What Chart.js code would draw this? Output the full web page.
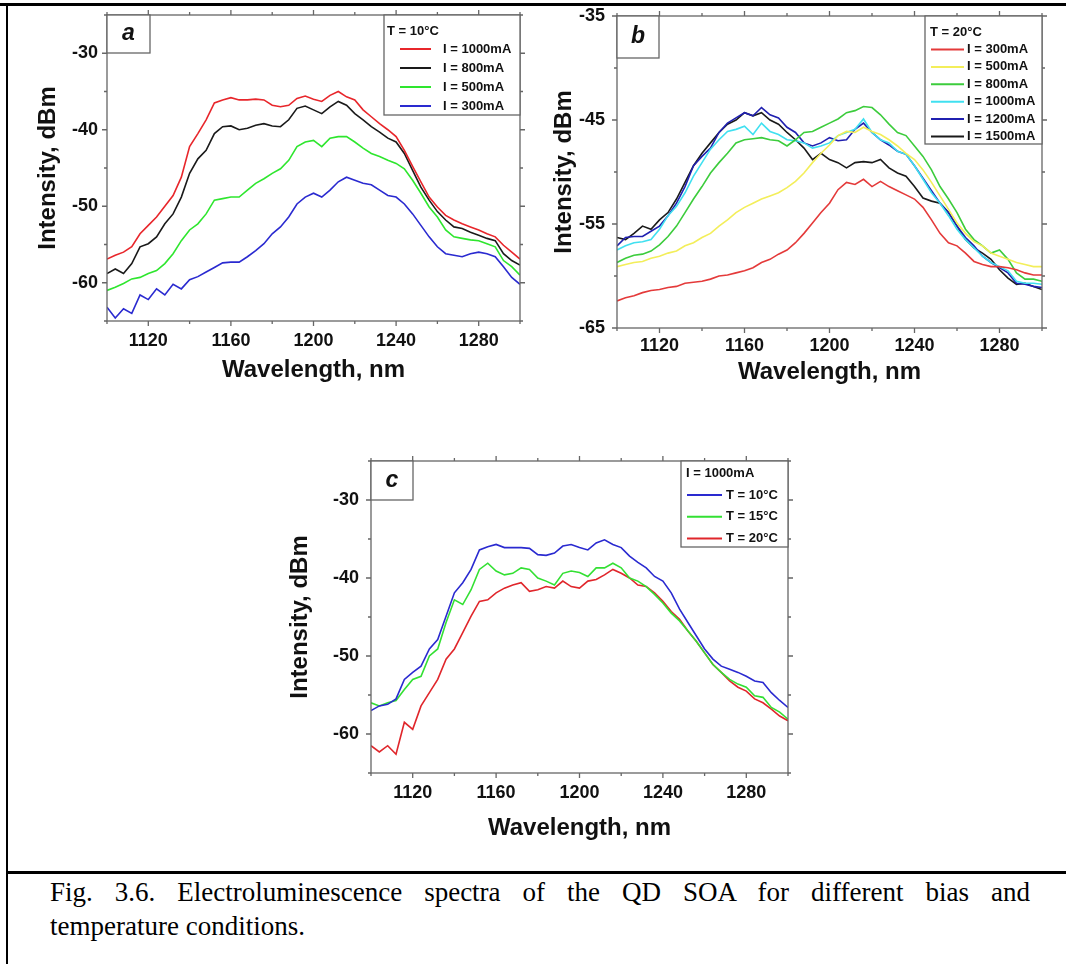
<!DOCTYPE html>
<html lang="en">
<head>
<meta charset="UTF-8">
<title>Electroluminescence spectra of the QD SOA</title>
<script src="https://cdn.jsdelivr.net/npm/chart.js"></script>
<style>
  body { margin: 0; background: #fff; }
  #page { position: relative; width: 1066px; height: 964px; overflow: hidden; background: #fff; }
  canvas { position: absolute; }
  .rule { position: absolute; background: #000; }
  .caption {
    position: absolute; left: 50px; width: 980px; white-space: nowrap;
    font-family: 'Liberation Serif', 'Times New Roman', serif;
    font-size: 27px; line-height: 34px; color: #000;
  }
  .caption.first { top: 875px; white-space: normal; text-align: justify; text-align-last: justify; }
  .caption.second { top: 909px; }
</style>
</head>
<body>
<div id="page">
  <div class="rule" style="left:0;top:3px;width:1066px;height:3px"></div>
  <div class="rule" style="left:6px;top:3px;width:2px;height:961px"></div>
  <div class="rule" style="left:6px;top:871px;width:1060px;height:3px"></div>

  <canvas id="chartA" width="535" height="400" style="left:0;top:0"></canvas>
  <canvas id="chartB" width="531" height="400" style="left:535px;top:0"></canvas>
  <canvas id="chartC" width="560" height="400" style="left:250px;top:450px"></canvas>

  <div class="caption first">Fig. 3.6. Electroluminescence spectra of the QD SOA for different bias and</div>
  <div class="caption second">temperature conditions.</div>
</div>

<script>
// wavelength grid, nm
const wavelength = [1100, 1104, 1108, 1112, 1116, 1120, 1124, 1128, 1132, 1136,
                    1140, 1144, 1148, 1152, 1156, 1160, 1164, 1168, 1172, 1176,
                    1180, 1184, 1188, 1192, 1196, 1200, 1204, 1208, 1212, 1216,
                    1220, 1224, 1228, 1232, 1236, 1240, 1244, 1248, 1252, 1256,
                    1260, 1264, 1268, 1272, 1276, 1280, 1284, 1288, 1292, 1296, 1300];

const xTickLabels = [1120, 1160, 1200, 1240, 1280];
const yTickLabelsAC = [-30, -40, -50, -60];
const yTickLabelsB = [-35, -45, -55, -65];

// panel a, T = 10 C
const a1000mA = [-56.9,-56.4,-56.0,-55.3,-53.6,-52.5,-51.4,-50.0,-48.6,-46.2,
                 -42.2,-40.5,-38.7,-36.5,-36.1,-35.8,-36.1,-36.1,-36.0,-36.1,
                 -36.8,-37.0,-36.8,-35.9,-35.6,-36.0,-36.3,-35.5,-35.0,-35.7,
                 -36.1,-37.4,-38.3,-39.2,-40.0,-40.9,-42.7,-44.8,-46.8,-48.8,
                 -50.1,-51.2,-51.8,-52.3,-52.7,-53.1,-53.6,-54.0,-55.1,-56.0,-56.9];
const a800mA = [-58.8,-58.2,-58.8,-57.5,-55.3,-54.9,-54.0,-52.3,-51.0,-48.8,
                -45.7,-43.8,-42.7,-40.5,-39.6,-39.5,-40.0,-39.8,-39.4,-39.2,
                -39.5,-39.6,-38.7,-37.2,-36.9,-37.4,-37.9,-37.0,-36.3,-36.8,
                -37.9,-38.7,-39.6,-40.3,-41.1,-41.6,-43.1,-45.3,-47.5,-49.2,
                -50.7,-51.8,-52.7,-52.9,-53.4,-53.8,-54.2,-54.5,-56.2,-57.1,-57.7];
const a500mA = [-61.0,-60.6,-60.1,-59.5,-59.3,-58.8,-58.4,-57.5,-56.2,-54.5,
                -53.1,-52.3,-51.0,-49.2,-49.0,-48.8,-48.8,-47.9,-47.0,-46.4,
                -45.7,-45.1,-44.0,-42.2,-41.6,-41.4,-42.2,-41.1,-40.9,-40.9,
                -41.6,-42.4,-43.1,-43.5,-44.0,-44.4,-45.1,-46.6,-48.3,-50.1,
                -51.4,-53.1,-54.0,-54.2,-54.4,-54.5,-54.9,-55.3,-57.1,-57.9,-59.0];
const a300mA = [-63.2,-64.6,-63.4,-64.0,-61.6,-62.2,-60.8,-61.6,-60.2,-60.8,
                -59.6,-59.2,-58.6,-58.0,-57.4,-57.3,-57.3,-56.6,-55.8,-54.9,
                -53.6,-52.7,-51.4,-49.7,-48.8,-48.3,-48.8,-47.9,-46.8,-46.2,
                -46.6,-47.0,-47.2,-47.9,-48.6,-48.8,-49.7,-51.0,-52.5,-54.0,
                -55.3,-56.2,-56.4,-56.6,-56.2,-56.0,-56.2,-56.6,-57.9,-59.3,-60.2];

// panel b, T = 20 C
const b300mA = [-62.4,-62.1,-61.9,-61.6,-61.4,-61.3,-61.1,-61.0,-60.7,-60.6,
                -60.5,-60.3,-60.0,-59.9,-59.7,-59.5,-59.2,-58.7,-58.4,-57.9,
                -57.5,-56.8,-55.9,-54.9,-53.9,-53.0,-51.7,-51.0,-51.2,-50.7,
                -51.4,-50.9,-51.4,-51.8,-52.2,-52.6,-53.4,-54.6,-55.9,-56.8,
                -57.1,-57.8,-58.6,-58.9,-59.1,-59.1,-59.2,-59.4,-59.7,-59.9,-59.9];
const b500mA = [-59.1,-58.9,-58.7,-58.6,-58.3,-58.1,-57.8,-57.6,-57.1,-56.8,
                -56.3,-55.9,-55.2,-54.6,-53.9,-53.4,-53.0,-52.6,-52.3,-52.0,
                -51.5,-50.9,-50.1,-49.1,-48.2,-47.4,-46.5,-46.1,-46.2,-45.7,
                -46.1,-46.4,-46.9,-47.5,-48.2,-48.8,-49.8,-51.0,-52.3,-53.6,
                -54.9,-55.9,-56.7,-57.1,-57.8,-58.1,-58.4,-58.7,-58.9,-59.1,-59.1];
const b800mA = [-58.7,-58.3,-58.0,-57.9,-57.6,-57.0,-56.2,-55.2,-53.9,-52.6,
                -51.4,-50.1,-49.1,-48.2,-47.2,-46.9,-46.8,-46.7,-46.9,-47.0,
                -47.5,-46.9,-46.2,-46.1,-45.7,-45.3,-44.9,-44.3,-44.1,-43.7,
                -43.8,-44.5,-45.4,-46.2,-46.5,-47.5,-48.5,-49.8,-51.4,-52.6,
                -53.9,-55.5,-56.5,-57.1,-57.8,-57.5,-58.4,-59.7,-60.3,-60.3,-60.5];
const b1000mA = [-57.5,-57.1,-56.8,-56.7,-56.5,-55.5,-54.2,-53.3,-52.0,-50.4,
                 -49.1,-47.8,-46.9,-46.1,-45.9,-45.6,-46.4,-45.3,-46.1,-46.4,
                 -46.9,-47.0,-47.2,-47.7,-47.5,-47.2,-46.5,-46.2,-45.9,-44.9,
                 -46.2,-46.9,-47.2,-48.0,-48.3,-49.4,-50.7,-52.0,-53.0,-54.2,
                 -55.5,-56.5,-57.3,-58.1,-58.7,-59.1,-59.5,-60.5,-60.7,-60.7,-60.8];
const b1200mA = [-57.1,-56.3,-56.2,-56.2,-55.7,-55.2,-54.2,-53.0,-51.4,-49.4,
                 -48.5,-47.7,-46.2,-45.3,-44.8,-44.3,-44.6,-43.8,-44.5,-44.8,
                 -45.7,-46.2,-47.2,-47.5,-47.2,-46.7,-47.0,-46.9,-45.9,-45.3,
                 -46.2,-46.9,-47.4,-48.0,-48.3,-49.4,-50.6,-51.8,-53.0,-53.9,
                 -55.2,-56.3,-57.1,-58.1,-58.7,-59.2,-59.7,-60.7,-60.8,-61.0,-61.1];
const b1500mA = [-56.3,-56.5,-55.9,-55.2,-55.5,-54.6,-53.9,-52.6,-51.0,-49.4,
                 -48.2,-47.2,-46.2,-45.4,-45.0,-44.3,-44.6,-44.3,-45.0,-45.4,
                 -46.2,-46.9,-47.7,-48.8,-48.2,-48.8,-49.1,-49.6,-49.1,-49.0,
                 -49.1,-48.8,-49.6,-50.1,-50.4,-51.4,-52.5,-52.8,-53.0,-53.9,
                 -55.2,-56.5,-57.3,-57.8,-58.4,-59.4,-60.2,-60.8,-60.7,-61.0,-61.3];

// panel c, I = 1000 mA
const c10C = [-57.0,-56.4,-56.2,-55.5,-53.0,-52.1,-51.3,-49.1,-47.9,-44.9,
              -41.9,-40.6,-38.9,-36.4,-36.0,-35.7,-36.1,-36.1,-36.1,-36.2,
              -37.0,-37.1,-36.8,-35.9,-35.7,-36.1,-36.4,-35.5,-35.1,-35.7,
              -36.1,-37.2,-38.0,-38.7,-39.8,-40.4,-41.9,-44.0,-45.7,-47.4,
              -49.1,-50.4,-51.3,-51.7,-52.1,-52.6,-53.2,-53.4,-54.7,-55.7,-56.6];
const c15C = [-56.0,-56.4,-56.0,-55.7,-54.3,-53.0,-52.6,-50.0,-49.1,-45.7,
              -42.8,-43.4,-41.5,-38.9,-38.1,-39.1,-39.6,-39.4,-38.7,-38.9,
              -40.0,-40.4,-40.9,-39.4,-39.1,-39.3,-39.8,-38.7,-38.7,-38.1,
              -38.7,-40.0,-40.4,-41.1,-42.1,-43.2,-44.5,-45.5,-46.8,-48.1,
              -49.6,-51.1,-52.1,-53.0,-53.6,-54.0,-55.1,-55.3,-56.6,-57.2,-58.1];
const c20C = [-61.5,-62.3,-61.5,-62.6,-58.5,-59.4,-56.4,-54.7,-53.0,-50.4,
              -49.1,-47.0,-44.9,-43.0,-42.8,-41.9,-41.3,-40.9,-40.6,-41.7,
              -41.5,-41.1,-41.3,-40.4,-41.1,-41.3,-40.4,-40.2,-39.6,-38.9,
              -39.4,-40.0,-40.9,-41.1,-41.9,-43.0,-44.3,-45.3,-46.8,-48.1,
              -49.6,-51.1,-52.1,-53.2,-54.0,-54.5,-55.5,-56.0,-56.8,-57.7,-58.3];

const FONT = "'Liberation Sans', Arial, sans-serif";
Chart.defaults.font.family = FONT;

// frame with mirrored ticks, panel letter and inset legend
const panelDecor = {
  id: 'panelDecor',
  afterDatasetsDraw(chart, args, o) {
    const { ctx, chartArea: a, scales: { x, y } } = chart;
    ctx.save();
    ctx.strokeStyle = '#666';
    ctx.lineWidth = 1.3;
    ctx.strokeRect(a.left, a.top, a.right - a.left, a.bottom - a.top);
    ctx.beginPath();
    x.ticks.forEach(t => {
      const p = x.getPixelForValue(t.value);
      const len = t.label ? 5 : 3;
      ctx.moveTo(p, a.bottom); ctx.lineTo(p, a.bottom + len);
      ctx.moveTo(p, a.top); ctx.lineTo(p, a.top - len);
    });
    y.ticks.forEach(t => {
      const p = y.getPixelForValue(t.value);
      const len = t.label ? 5 : 3;
      ctx.moveTo(a.left, p); ctx.lineTo(a.left - len, p);
      ctx.moveTo(a.right, p); ctx.lineTo(a.right + len, p);
    });
    ctx.stroke();

    // letter box
    const [bx0, by0, bx1, by1] = o.letterBox;
    ctx.fillStyle = '#fff';
    ctx.fillRect(bx0, by0, bx1 - bx0, by1 - by0);
    ctx.strokeRect(bx0, by0, bx1 - bx0, by1 - by0);
    ctx.fillStyle = '#111';
    ctx.font = 'italic bold 23px ' + FONT;
    ctx.textAlign = 'center';
    ctx.textBaseline = 'middle';
    ctx.fillText(o.letter, (bx0 + bx1) / 2, (by0 + by1) / 2);

    // legend
    const L = o.legend;
    ctx.fillStyle = '#fff';
    ctx.fillRect(L.left, a.top, a.right - L.left, L.bottom - a.top);
    ctx.strokeRect(L.left, a.top, a.right - L.left, L.bottom - a.top);
    ctx.fillStyle = '#111';
    ctx.font = 'bold 13px ' + FONT;
    ctx.textAlign = 'left';
    ctx.fillText(L.title, L.titleX, L.titleY);
    chart.data.datasets.forEach((ds, i) => {
      const yy = L.firstY + i * L.rowH;
      ctx.strokeStyle = ds.borderColor;
      ctx.lineWidth = 2;
      ctx.beginPath();
      ctx.moveTo(L.lineX0, yy); ctx.lineTo(L.lineX1, yy);
      ctx.stroke();
      ctx.fillText(ds.label, L.textX, yy);
    });
    ctx.restore();
  }
};

function makePanel(id, cfg) {
  return new Chart(document.getElementById(id), {
    type: 'line',
    data: {
      datasets: cfg.series.map(s => ({
        label: s.label,
        data: wavelength.map((w, i) => ({ x: w, y: s.values[i] })),
        borderColor: s.color,
        borderWidth: 1.6,
        pointRadius: 0,
        tension: 0,
        fill: false
      }))
    },
    options: {
      responsive: false,
      animation: false,
      devicePixelRatio: 1,
      layout: { padding: { top: cfg.padTop, right: cfg.padRight, left: 0, bottom: 0 } },
      plugins: {
        legend: { display: false },
        tooltip: { enabled: false },
        panelDecor: cfg.decor
      },
      scales: {
        x: {
          type: 'linear', min: 1100, max: 1300,
          afterFit: s => { s.height = cfg.xHeight; s.paddingLeft = 0; s.paddingRight = 0; },
          grid: { display: false, drawTicks: false },
          border: { display: false },
          ticks: {
            stepSize: 20, autoSkip: false, maxRotation: 0, padding: cfg.xTickPad,
            color: '#111', font: { size: 18, weight: 'bold' },
            callback: v => xTickLabels.includes(v) ? String(v) : ''
          },
          title: {
            display: true, text: 'Wavelength, nm', color: '#111',
            font: { size: 24, weight: 'bold' },
            padding: { top: 0, bottom: cfg.xTitlePad }
          }
        },
        y: {
          type: 'linear', min: cfg.yMin, max: cfg.yMax,
          afterFit: s => { s.width = cfg.yWidth; s.paddingTop = 0; s.paddingBottom = 0; },
          grid: { display: false, drawTicks: false },
          border: { display: false },
          ticks: {
            stepSize: 5, autoSkip: false, padding: cfg.yTickPad,
            color: '#111', font: { size: 18, weight: 'bold' },
            callback: v => cfg.yLabels.includes(v) ? String(v) : ''
          },
          title: {
            display: true, text: 'Intensity, dBm', color: '#111',
            font: { size: 24, weight: 'bold' },
            padding: { top: cfg.yTitlePad, bottom: 0 }
          }
        }
      }
    },
    plugins: [panelDecor]
  });
}

makePanel('chartA', {
  series: [
    { label: 'I = 1000mA', values: a1000mA, color: '#e8262b' },
    { label: 'I = 800mA', values: a800mA, color: '#1a1a1a' },
    { label: 'I = 500mA', values: a500mA, color: '#2ee62e' },
    { label: 'I = 300mA', values: a300mA, color: '#2a2ad0' }
  ],
  yMin: -65, yMax: -25, yLabels: yTickLabelsAC,
  padTop: 15, padRight: 15, xHeight: 79, yWidth: 107,
  xTickPad: 9, yTickPad: 9, xTitlePad: 15.6, yTitlePad: 33.6,
  decor: {
    letter: 'a', letterBox: [107, 15, 150, 53],
    legend: { left: 384, bottom: 115, title: 'T = 10°C', titleX: 387, titleY: 31,
              firstY: 49, rowH: 19, lineX0: 400, lineX1: 431, textX: 443 }
  }
});

makePanel('chartB', {
  series: [
    { label: 'I = 300mA', values: b300mA, color: '#e43a3a' },
    { label: 'I = 500mA', values: b500mA, color: '#f3ee5a' },
    { label: 'I = 800mA', values: b800mA, color: '#3ccc3c' },
    { label: 'I = 1000mA', values: b1000mA, color: '#40e0f0' },
    { label: 'I = 1200mA', values: b1200mA, color: '#2020b0' },
    { label: 'I = 1500mA', values: b1500mA, color: '#1a1a1a' }
  ],
  yMin: -65, yMax: -35, yLabels: yTickLabelsB,
  padTop: 16, padRight: 24, xHeight: 72, yWidth: 82,
  xTickPad: 7, yTickPad: 12, xTitlePad: 13.6, yTitlePad: 14.6,
  decor: {
    letter: 'b', letterBox: [82, 16, 124, 58],
    legend: { left: 390, bottom: 144, title: 'T = 20°C', titleX: 395, titleY: 32,
              firstY: 49.5, rowH: 17.4, lineX0: 396, lineX1: 429, textX: 432 }
  }
});

makePanel('chartC', {
  series: [
    { label: 'T = 10°C', values: c10C, color: '#2a2ad0' },
    { label: 'T = 15°C', values: c15C, color: '#33e033' },
    { label: 'T = 20°C', values: c20C, color: '#e0262b' }
  ],
  yMin: -65, yMax: -25, yLabels: yTickLabelsAC,
  padTop: 11, padRight: 22, xHeight: 77, yWidth: 121,
  xTickPad: 9, yTickPad: 12, xTitlePad: 7.6, yTitlePad: 35.6,
  decor: {
    letter: 'c', letterBox: [121, 11, 163, 50],
    legend: { left: 431, bottom: 97, title: 'I = 1000mA', titleX: 436, titleY: 23,
              firstY: 45, rowH: 21.7, lineX0: 437, lineX1: 472, textX: 476 }
  }
});
</script>
</body>
</html>
